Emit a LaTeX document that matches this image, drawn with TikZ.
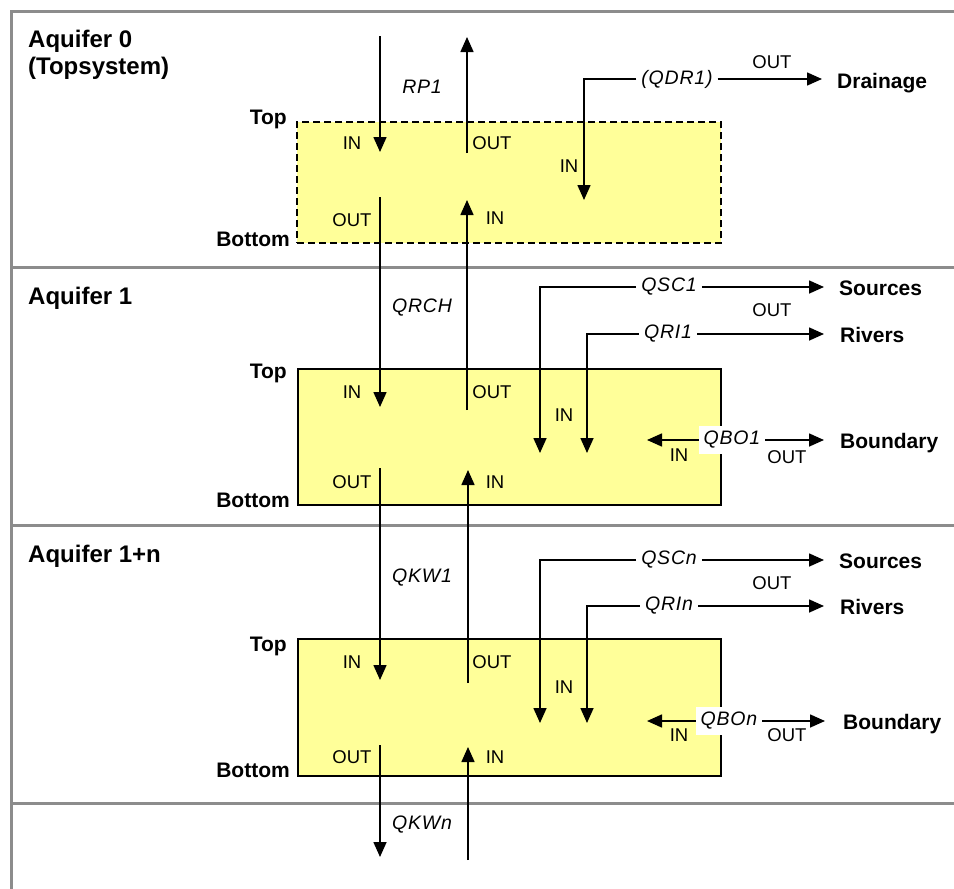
\documentclass[tikz,border=0pt]{standalone}
\usepackage{fontspec}
\setmainfont{Liberation Sans}
\newfontfamily\flowfont{Liberation Sans}[LetterSpace=4]
\usetikzlibrary{arrows.meta}
\definecolor{boxyellow}{RGB}{255,255,153}
\definecolor{sepgray}{RGB}{140,140,140}
\begin{document}
\begin{tikzpicture}[x=1pt,y=-1pt,
  sep/.style={draw=sepgray, line width=3pt},
  aqbox/.style={draw=black, fill=boxyellow, line width=1.4pt, minimum width=423pt, inner sep=0pt},
  flow/.style={line width=1.6pt, -{Triangle[length=15pt,width=13pt]}},
  boldlab/.style={font=\fontsize{21}{24}\selectfont\bfseries, inner sep=0pt},
  aqlab/.style={font=\fontsize{24}{28}\selectfont\bfseries, inner sep=0pt},
  io/.style={font=\fontsize{18.5}{22}\selectfont, inner sep=0pt},
  qlab/.style={font=\flowfont\itshape\fontsize{19.5}{22}\selectfont, fill=white, inner sep=5pt},
]
\useasboundingbox (0,0) rectangle (954,889);
\fill[white] (0,0) rectangle (954,889);

% frame and separators
\draw[sep] (954,11) -- (11,11) -- (11,889);
\draw[sep] (11,267) -- (954,267);
\draw[sep] (11,525) -- (954,525);
\draw[sep] (11,803) -- (954,803);

% boxes
\node[aqbox, dash pattern=on 7pt off 4pt, minimum width=424pt, minimum height=121pt] (box0) at (509,182.5) {};
\node[aqbox, minimum height=136pt] (box1) at (509.5,437) {};
\node[aqbox, minimum height=137pt] (boxn) at (509.5,707.5) {};

% aquifer labels
\node[aqlab, anchor=base west] (aq0) at (28,47) {Aquifer 0};
\node[aqlab, anchor=base west] (aq0b) at (28,74) {(Topsystem)};
\node[aqlab, anchor=base west] (aq1) at (28,304) {Aquifer 1};
\node[aqlab, anchor=base west] (aqn) at (28,562) {Aquifer 1+n};

% top / bottom labels
\node[boldlab, anchor=base east] (top0) at (287,124) {Top};
\node[boldlab, anchor=base east] (bot0) at (290,246) {Bottom};
\node[boldlab, anchor=base east] (top1) at (287,378) {Top};
\node[boldlab, anchor=base east] (bot1) at (290,507) {Bottom};
\node[boldlab, anchor=base east] (topn) at (287,651) {Top};
\node[boldlab, anchor=base east] (botn) at (290,777) {Bottom};

% vertical exchange labels
\node[qlab] (rp1) at (422,87) {RP1};
\node[qlab] (qrch) at (422,308) {QRCH};
\node[qlab] (qkw1) at (422,578) {QKW1};
\node[qlab] (qkwn) at (422,825) {QKWn};

% vertical connectors
\coordinate (rpA) at (380,36);  \coordinate (rpB) at (380,152);
\coordinate (rpC) at (467,153); \coordinate (rpD) at (467,37);
\draw[flow] (rpA) -- (rpB);
\draw[flow] (rpC) -- (rpD);

\coordinate (chA) at (380,197); \coordinate (chB) at (380,407);
\coordinate (chC) at (467,410); \coordinate (chD) at (467,200);
\draw[flow] (chA) -- (chB);
\draw[flow] (chC) -- (chD);

\coordinate (k1A) at (380,468); \coordinate (k1B) at (380,680);
\coordinate (k1C) at (468,683); \coordinate (k1D) at (468,470);
\draw[flow] (k1A) -- (k1B);
\draw[flow] (k1C) -- (k1D);

\coordinate (knA) at (380,745); \coordinate (knB) at (380,857);
\coordinate (knC) at (468,860); \coordinate (knD) at (468,747);
\draw[flow] (knA) -- (knB);
\draw[flow] (knC) -- (knD);

% IN/OUT in boxes
\node[io] (in0a) at (352,143) {IN};
\node[io] (out0a) at (492,143) {OUT};
\node[io] (out0b) at (352,220) {OUT};
\node[io] (in0b) at (495,218) {IN};
\node[io] (in1a) at (352,392) {IN};
\node[io] (out1a) at (492,392) {OUT};
\node[io] (out1b) at (352,482) {OUT};
\node[io] (in1b) at (495,482) {IN};
\node[io] (inna) at (352,662) {IN};
\node[io] (outna) at (492,662) {OUT};
\node[io] (outnb) at (352,757) {OUT};
\node[io] (innb) at (495,757) {IN};

% drainage
\node[qlab] (qdr) at (677,79) {(QDR1)};
\node[boldlab, anchor=base west] (drain) at (837,88) {Drainage};
\coordinate (qdrC) at (584,79); \coordinate (qdrT) at (584,200);
\coordinate (drainT) at (822,79);
\draw[flow] (qdr.west) -- (qdrC) -- (qdrT);
\draw[flow] (qdr.east) -- (drainT);
\node[io] (qdrin) at (569,166) {IN};
\node[io] (qdrout) at (772,62) {OUT};

% band 1 lateral flows
\node[qlab] (qsc1) at (669,287) {QSC1};
\node[boldlab, anchor=base west] (src1) at (839,295) {Sources};
\coordinate (qsc1C) at (540,287); \coordinate (qsc1T) at (540,453);
\coordinate (src1T) at (824,287);
\draw[flow] (qsc1.west) -- (qsc1C) -- (qsc1T);
\draw[flow] (qsc1.east) -- (src1T);
\node[io] (out1s) at (772,310) {OUT};

\node[qlab] (qri1) at (668,334) {QRI1};
\node[boldlab, anchor=base west] (riv1) at (840,342) {Rivers};
\coordinate (qri1C) at (587,334); \coordinate (qri1T) at (587,453);
\coordinate (riv1T) at (824,334);
\draw[flow] (qri1.west) -- (qri1C) -- (qri1T);
\draw[flow] (qri1.east) -- (riv1T);
\node[io] (in1r) at (564,415) {IN};

\node[qlab] (qbo1) at (732,440) {QBO1};
\node[boldlab, anchor=base west] (bnd1) at (840,448) {Boundary};
\coordinate (qbo1T) at (647,440); \coordinate (bnd1T) at (824,440);
\draw[flow] (qbo1.west) -- (qbo1T);
\draw[flow] (qbo1.east) -- (bnd1T);
\node[io] (qbo1in) at (679,455) {IN};
\node[io] (qbo1out) at (787,457) {OUT};

% band n lateral flows
\node[qlab] (qscn) at (669,560) {QSCn};
\node[boldlab, anchor=base west] (srcn) at (839,568) {Sources};
\coordinate (qscnC) at (540,560); \coordinate (qscnT) at (540,723);
\coordinate (srcnT) at (824,560);
\draw[flow] (qscn.west) -- (qscnC) -- (qscnT);
\draw[flow] (qscn.east) -- (srcnT);
\node[io] (outns) at (772,583) {OUT};

\node[qlab] (qrin) at (669,606) {QRIn};
\node[boldlab, anchor=base west] (rivn) at (840,614) {Rivers};
\coordinate (qrinC) at (587,606); \coordinate (qrinT) at (587,723);
\coordinate (rivnT) at (824,606);
\draw[flow] (qrin.west) -- (qrinC) -- (qrinT);
\draw[flow] (qrin.east) -- (rivnT);
\node[io] (innr) at (564,687) {IN};

\node[qlab] (qbon) at (729,721) {QBOn};
\node[boldlab, anchor=base west] (bndn) at (843,729) {Boundary};
\coordinate (qbonT) at (647,721); \coordinate (bndnT) at (825,721);
\draw[flow] (qbon.west) -- (qbonT);
\draw[flow] (qbon.east) -- (bndnT);
\node[io] (qbonin) at (679,735) {IN};
\node[io] (qbonout) at (787,735) {OUT};
\end{tikzpicture}
\end{document}
